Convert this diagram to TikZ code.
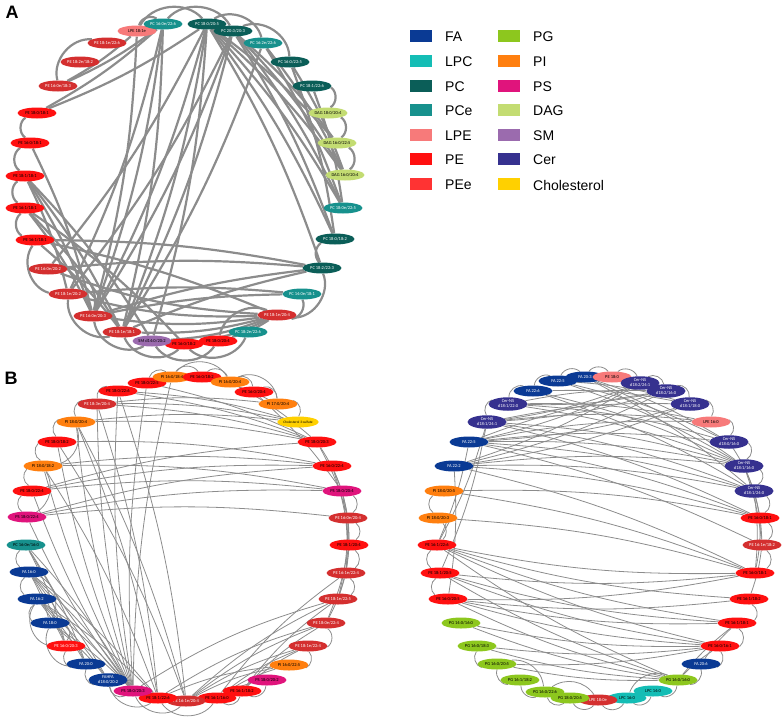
\documentclass[tikz,border=0pt]{standalone}
\usepackage{fontspec}
\setmainfont{Liberation Sans}
\newfontfamily\nfont{Carlito}
\usetikzlibrary{shapes.geometric}
\pgfdeclarelayer{bg}
\pgfsetlayers{bg,main}
\definecolor{cFA}{HTML}{0A3A94}
\definecolor{cLPC}{HTML}{14BDB5}
\definecolor{cPC}{HTML}{0B5E58}
\definecolor{cPCe}{HTML}{17918D}
\definecolor{cLPE}{HTML}{F77A7A}
\definecolor{cPE}{HTML}{FF1010}
\definecolor{cPEeL}{HTML}{FF3333}
\definecolor{cPEe}{HTML}{D42F2F}
\definecolor{cPG}{HTML}{8DC71E}
\definecolor{cPI}{HTML}{FF7F0F}
\definecolor{cPS}{HTML}{E0147C}
\definecolor{cDAG}{HTML}{C3DC72}
\definecolor{cSM}{HTML}{9B6BAE}
\definecolor{cCer}{HTML}{36318F}
\definecolor{cChol}{HTML}{FFD000}
\definecolor{cEdge}{HTML}{8C8C8C}
\tikzset{
 nd/.style={ellipse, inner sep=0pt, minimum width=39pt, minimum height=11pt, font=\nfont\fontsize{4.5}{4.8}\selectfont, align=center, text=black},
 sPE/.style={nd, fill=cPE},
 sPEe/.style={nd, fill=cPEe, text=white},
 sPC/.style={nd, fill=cPC, text=white},
 sPCe/.style={nd, fill=cPCe, text=white},
 sLPE/.style={nd, fill=cLPE},
 sLPC/.style={nd, fill=cLPC},
 sDAG/.style={nd, fill=cDAG},
 sSM/.style={nd, fill=cSM},
 sFA/.style={nd, fill=cFA, text=white},
 sPI/.style={nd, fill=cPI},
 sPS/.style={nd, fill=cPS},
 sPG/.style={nd, fill=cPG},
 sCer/.style={nd, fill=cCer, text=white, minimum height=13.5pt},
 sChol/.style={nd, fill=cChol},
 eA/.style={draw=cEdge, line width=2.2pt},
 eB/.style={draw=cEdge, line width=0.8pt},
 sw/.style={minimum width=22pt, minimum height=12pt, inner sep=0pt},
 lg/.style={anchor=west, font=\fontsize{14}{16}\selectfont, inner sep=0pt},
 plabel/.style={font=\bfseries\fontsize{18}{20}\selectfont, inner sep=0pt},
}
\begin{document}
\begin{tikzpicture}[x=1pt,y=-1pt]
\useasboundingbox (0,0) rectangle (782,718);
\node[plabel] (labA) at (12,12) {A};
\node[plabel] (labB) at (11,378) {B};
% ---------- Panel A ----------
\node[sLPE] (a1) at (137,31) {LPE 18:1e};
\node[sPCe] (a2) at (163,24) {PC 16:0e/22:6};
\node[sPC] (a3) at (207,24) {PC 18:0/20:5};
\node[sPC] (a4) at (233,31) {PC 20:3/20:3};
\node[sPCe] (a5) at (263,43) {PC 16:2e/22:6};
\node[sPC] (a6) at (290,62) {PC 16:0/22:5};
\node[sPC] (a7) at (312,86) {PC 18:1/22:6};
\node[sDAG] (a8) at (328,113) {DAG 18:0/20:4};
\node[sDAG] (a9) at (337,143) {DAG 16:0/22:5};
\node[sDAG] (a10) at (345,175) {DAG 16:0/20:4};
\node[sPCe] (a11) at (343,208) {PC 18:0e/22:5};
\node[sPC] (a12) at (335,239) {PC 18:0/18:2};
\node[sPC] (a13) at (322,268) {PC 18:2/22:3};
\node[sPCe] (a14) at (302,294) {PC 14:0e/18:1};
\node[sPEe] (a15) at (277,315) {PE 18:1e/20:4};
\node[sPCe] (a16) at (248,332) {PC 18:2e/22:6};
\node[sPE] (a17) at (218,341) {PE 18:0/20:4};
\node[sPE] (a18) at (184,344) {PE 16:0/18:2};
\node[sSM] (a19) at (152,341) {SM d14:0/20:2};
\node[sPEe] (a20) at (122,332) {PE 18:1e/18:1};
\node[sPEe] (a21) at (93,316) {PE 16:0e/20:3};
\node[sPEe] (a22) at (68,294) {PE 18:1e/20:2};
\node[sPEe] (a23) at (48,269) {PE 16:0e/20:2};
\node[sPE] (a24) at (35,240) {PE 16:1/18:1};
\node[sPE] (a25) at (25,208) {PE 16:1/18:1};
\node[sPE] (a26) at (25,176) {PE 18:1/18:1};
\node[sPE] (a27) at (30,143) {PE 16:0/18:1};
\node[sPE] (a28) at (37,113) {PE 18:0/18:1};
\node[sPEe] (a29) at (58,86) {PE 16:0e/18:3};
\node[sPEe] (a30) at (80,62) {PE 18:2e/18:2};
\node[sPEe] (a31) at (107,43) {PE 18:1e/22:6};
% ---------- Legend ----------
\node[sw, fill=cFA] (k1) at (421,36) {};   \node[lg] (t1) at (445,37) {FA};
\node[sw, fill=cLPC] (k2) at (421,61) {};  \node[lg] (t2) at (445,62) {LPC};
\node[sw, fill=cPC] (k3) at (421,86) {};   \node[lg] (t3) at (445,87) {PC};
\node[sw, fill=cPCe] (k4) at (421,110) {}; \node[lg] (t4) at (445,111) {PCe};
\node[sw, fill=cLPE] (k5) at (421,135) {}; \node[lg] (t5) at (445,136) {LPE};
\node[sw, fill=cPE] (k6) at (421,159) {};  \node[lg] (t6) at (445,160) {PE};
\node[sw, fill=cPEeL] (k7) at (421,184) {}; \node[lg] (t7) at (445,185) {PEe};
\node[sw, fill=cPG] (k8) at (509,36) {};   \node[lg] (t8) at (533,37) {PG};
\node[sw, fill=cPI] (k9) at (509,61) {};   \node[lg] (t9) at (533,62) {PI};
\node[sw, fill=cPS] (k10) at (509,86) {};  \node[lg] (t10) at (533,87) {PS};
\node[sw, fill=cDAG] (k11) at (509,110) {}; \node[lg] (t11) at (533,111) {DAG};
\node[sw, fill=cSM] (k12) at (509,135) {}; \node[lg] (t12) at (533,136) {SM};
\node[sw, fill=cCer] (k13) at (509,159) {}; \node[lg] (t13) at (533,160) {Cer};
\node[sw, fill=cChol] (k14) at (509,184) {}; \node[lg] (t14) at (533,185) {Cholesterol};
% ---------- Panel B left ----------
\node[sPE] (b1) at (147,383) {PE 18:0/22:5};
\node[sPI] (b2) at (172,377) {PI 16:0/18:4};
\node[sPE] (b3) at (202,377) {PE 16:0/18:2};
\node[sPI] (b4) at (230,382) {PI 16:0/20:4};
\node[sPE] (b5) at (254,392) {PE 16:0/20:4};
\node[sPI] (b6) at (278,404) {PI 17:0/20:4};
\node[sChol, font=\nfont\fontsize{3.5}{3.8}\selectfont] (b7) at (298,422) {Cholesterol 3-sulfate};
\node[sPE] (b8) at (317,442) {PE 18:0/20:3};
\node[sPE] (b9) at (332,466) {PE 16:0/22:4};
\node[sPS] (b10) at (342,491) {PS 18:0/20:4};
\node[sPEe] (b11) at (348,518) {PE 16:0e/20:4};
\node[sPE] (b12) at (349,545) {PE 18:1/20:4};
\node[sPEe] (b13) at (346,573) {PE 16:1e/22:4};
\node[sPEe] (b14) at (338,599) {PE 18:1e/22:5};
\node[sPEe] (b15) at (326,623) {PE 18:0e/22:4};
\node[sPEe] (b16) at (308,646) {PE 18:1e/22:4};
\node[sPI] (b17) at (289,665) {PI 16:0/22:5};
\node[sPS] (b18) at (267,680) {PS 18:0/20:2};
\node[sPE] (b19) at (242,691) {PE 16:1/18:2};
\node[sPE] (b20) at (217,698) {PE 16:1/16:0};
\node[sPEe] (b21) at (186,701) {PE 16:1e/20:4};
\node[sPE] (b22) at (158,698) {PE 18:1/22:6};
\node[sPS] (b23) at (133,691) {PS 18:0/20:3};
\node[sFA, minimum height=13.5pt] (b24) at (108,680) {FAHFA\\d18:0/20:2};
\node[sFA] (b25) at (86,664) {FA 20:0};
\node[sPE, text=white] (b26) at (66,646) {PE 16:0/20:3};
\node[sFA] (b27) at (50,623) {FA 18:0};
\node[sFA] (b28) at (37,599) {FA 16:2};
\node[sFA] (b29) at (29,572) {FA 16:0};
\node[sPCe, text=black] (b30) at (26,545) {PC 16:0e/16:0};
\node[sPS] (b31) at (27,517) {PS 18:0/22:4};
\node[sPE] (b32) at (32,491) {PE 18:0/22:4};
\node[sPI] (b33) at (43,466) {PI 18:0/18:2};
\node[sPE] (b34) at (57,442) {PE 18:0/18:2};
\node[sPI] (b35) at (76,422) {PI 18:0/20:4};
\node[sPEe] (b36) at (97,404) {PE 18:3e/20:4};
\node[sPE] (b37) at (118,391) {PE 18:0/22:6};
% ---------- Panel B right ----------
\node[sFA] (c1) at (533,391) {FA 22:6};
\node[sFA] (c2) at (558,381) {FA 22:5};
\node[sFA] (c3) at (585,377) {FA 20:3};
\node[sLPE] (c4) at (612,377) {PE 18:0};
\node[sCer] (c5) at (640,383) {Cer-NS\\d18:2/24:1};
\node[sCer] (c6) at (666,391) {Cer-NS\\d18:2/16:0};
\node[sCer] (c7) at (690,404) {Cer-NS\\d18:1/18:0};
\node[sLPE] (c8) at (711,422) {LPE 16:0};
\node[sCer] (c9) at (729,442) {Cer-NS\\d18:0/16:0};
\node[sCer] (c10) at (744,466) {Cer-NS\\d18:1/16:0};
\node[sCer] (c11) at (754,491) {Cer-NS\\d18:1/24:0};
\node[sPE] (c12) at (760,518) {PE 16:0/18:1};
\node[sPEe] (c13) at (762,545) {PE 16:1e/18:2};
\node[sPE] (c14) at (755,573) {PE 16:0/18:1};
\node[sPE] (c15) at (749,599) {PE 16:1/18:2};
\node[sPE] (c16) at (737,623) {PE 16:1/18:1};
\node[sPE] (c17) at (720,646) {PE 16:0/16:1};
\node[sFA] (c18) at (701,664) {FA 20:6};
\node[sPG] (c19) at (678,680) {PG 16:0/16:0};
\node[sLPC] (c20) at (653,691) {LPC 14:0};
\node[sLPC] (c21) at (627,698) {LPC 16:0};
\node[sPEe] (c22) at (598,700) {LPE 18:0e};
\node[sPG] (c23) at (570,698) {PG 18:0/20:5};
\node[sPG] (c24) at (545,692) {PG 16:0/22:6};
\node[sPG] (c25) at (520,680) {PG 16:1/18:2};
\node[sPG] (c26) at (497,664) {PG 16:0/20:5};
\node[sPG] (c27) at (477,646) {PG 16:0/18:3};
\node[sPG] (c28) at (461,623) {PG 14:0/16:0};
\node[sPE] (c29) at (448,599) {PE 16:0/20:5};
\node[sPE] (c30) at (440,573) {PE 18:1/20:5};
\node[sPE] (c31) at (437,545) {PE 16:1/22:6};
\node[sPI] (c32) at (438,518) {PI 18:0/20:3};
\node[sPI] (c33) at (444,491) {PI 18:0/20:5};
\node[sFA] (c34) at (454,466) {FA 22:2};
\node[sFA] (c35) at (469,442) {FA 22:5};
\node[sCer] (c36) at (487,422) {Cer-NS\\d18:1/24:1};
\node[sCer] (c37) at (508,404) {Cer-NS\\d18:1/22:0};
% ---------- Edges ----------
\begin{pgfonlayer}{bg}
% A chords
\foreach \u/\v in {a2/a21,a2/a20,a3/a21,a3/a20,a3/a23,a4/a21,a4/a22,a5/a20,a1/a21,a3/a19,a4/a20,a2/a22,
 a2/a28,a2/a29,a3/a28,a1/a29,a3/a10,a3/a11,a3/a12,a4/a10,a4/a11,a4/a12,a4/a9,a3/a13,a5/a11,a6/a12,a7/a11,a5/a10,a6/a10,a3/a9,
 a26/a21,a26/a20,a25/a20,a24/a20,a26/a22,a27/a21,a25/a21,a26/a19,a25/a18}
 \draw[eA] (\u) to[bend left=6] (\v);
\foreach \u/\v in {a24/a13,a23/a13,a21/a13,a20/a13,a21/a14,a22/a14,a24/a15}
 \draw[eA] (\u) to[bend left=5] (\v);
\foreach \u/\v in {a22/a15,a23/a15,a21/a15,a20/a15,a19/a15,a18/a15,a17/a15}
 \draw[eA] (\u) to[bend right=8] (\v);
\foreach \u/\v in {a1/a2,a2/a4,a1/a3,a3/a5,a4/a6,a7/a8,a8/a9,a9/a10,a13/a15,a14/a15,a16/a18,a17/a19,a18/a20,a19/a21,a20/a22,a22/a24,a24/a25,a25/a26,a26/a27,a27/a28,a29/a31}
 \draw[eA] (\u) to[bend left=55] (\v);
\foreach \u/\v in {a12/a13,a15/a17,a21/a23}
 \draw[eA] (\u) to[bend right=50] (\v);
% B left chords
\foreach \u/\v in {b23/b35,b23/b34,b23/b33,b23/b36,b23/b37,b23/b32,b23/b31,b23/b30,b23/b1,b23/b2,
 b35/b22,b34/b21,b33/b22,b35/b21,b36/b22,b37/b21,
 b29/b27,b29/b25,b29/b24,b28/b25,b28/b24,b27/b24,b29/b26,b28/b26,b30/b23,b29/b23,b28/b23,b27/b23,b29/b22,b28/b22,b30/b25,b30/b26,
 b32/b9,b32/b10,b31/b10,b31/b9,b32/b8,b31/b11,b33/b10,b34/b9,b36/b8,b36/b7,b37/b8,b37/b7,b35/b8,b35/b7,b1/b8,b36/b6,b33/b9,
 b9/b12,b10/b12,b10/b13,b11/b13,b11/b14,b12/b14,b13/b15,b8/b10,b8/b11,b9/b11,b5/b10,b4/b8,b12/b15,
 b1/b4,b3/b6}
 \draw[eB] (\u) to[bend left=6] (\v);
\foreach \u/\v in {b14/b21,b14/b23,b15/b22,b15/b21,b16/b20,b16/b19,b17/b20,b17/b21,b18/b20,b15/b19,b16/b21,b17/b22,b14/b19,b13/b20}
 \draw[eB] (\u) to[bend right=8] (\v);
\foreach \u/\v in {b1/b2,b2/b3,b3/b4,b2/b4,b4/b5,b4/b6,b5/b6,b6/b7,b10/b11,b11/b12,b12/b13,b13/b14,b15/b16,b16/b17,b18/b19,b19/b20,b20/b22,b21/b23,b22/b24,b23/b24,b24/b25,b25/b26,b25/b27,b26/b28,b27/b28,b28/b29,b29/b30,b31/b32,b32/b33,b33/b34,b34/b35,b35/b36,b36/b37}
 \draw[eB] (\u) to[bend left=55] (\v);
\foreach \u/\v in {b33/b35,b31/b33,b27/b29,b26/b27}
 \draw[eB] (\u) to[bend right=45] (\v);
% B right chords
\foreach \u/\v in {c35/c10,c35/c11,c35/c9,c34/c11,c34/c10,c36/c10,c36/c11,c37/c9,c37/c10,c1/c10,c1/c11,c2/c9,c2/c10,c3/c11,c3/c10,
 c36/c12,c35/c12,c34/c12,c1/c7,c2/c7,c36/c7,c37/c6,c35/c6,c36/c8,c35/c8,c37/c8,c3/c9,c5/c36,c5/c35,c6/c36,c6/c34,c7/c35,c7/c34,c5/c34,c6/c37,
 c33/c14,c32/c14,c34/c14,c33/c12,c35/c13,c36/c31,c35/c31,c36/c30,c34/c29,
 c12/c14,c13/c15,c10/c12,c11/c13,c9/c11,c11/c14,c10/c13,c18/c16}
 \draw[eB] (\u) to[bend left=6] (\v);
\foreach \u/\v in {c31/c14,c31/c16,c31/c17,c30/c14,c30/c16,c30/c17,c29/c14,c29/c16,c29/c17,c29/c15,c31/c15,c31/c19,c30/c19,c29/c19,c28/c17,c27/c19,c26/c19,c28/c19,c26/c17,c27/c17,c17/c19,c16/c19}
 \draw[eB] (\u) to[bend right=6] (\v);
\foreach \u/\v in {c1/c2,c2/c3,c3/c4,c4/c5,c5/c6,c6/c7,c7/c8,c8/c9,c9/c10,c10/c11,c11/c12,c12/c13,c13/c14,c15/c16,c16/c17,c17/c18,c18/c19,c19/c20,c20/c21,c21/c22,c22/c23,c23/c24,c24/c25,c25/c26,c26/c27,c29/c30,c30/c31,c32/c33,c36/c37,c37/c1}
 \draw[eB] (\u) to[bend left=55] (\v);
\foreach \u/\v in {c19/c21,c22/c24,c24/c26,c31/c32}
 \draw[eB] (\u) to[bend right=45] (\v);
\end{pgfonlayer}
\end{tikzpicture}
\end{document}
